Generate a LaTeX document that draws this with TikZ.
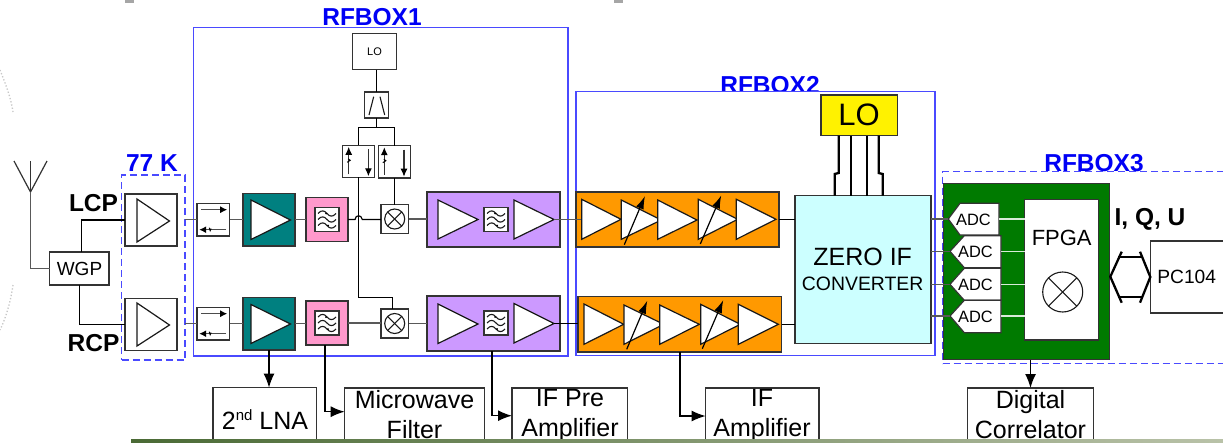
\documentclass[tikz,border=0pt]{standalone}
\usepackage{fontspec}
\setmainfont{Liberation Sans}
\usetikzlibrary{arrows.meta,calc}
\definecolor{boxblue}{HTML}{4A4AFF}
\definecolor{tealbox}{HTML}{008080}
\definecolor{pinkbox}{HTML}{FF99CC}
\definecolor{purplebox}{HTML}{CC99FF}
\definecolor{orangebox}{HTML}{FF9900}
\definecolor{cyanbox}{HTML}{CCFFFF}
\definecolor{greenbox}{HTML}{007A00}
\definecolor{edgegray}{HTML}{333333}
\definecolor{labelblue}{HTML}{0000F5}
\definecolor{stripa}{HTML}{4A6A35}
\definecolor{stripb}{HTML}{7F9470}
\definecolor{stripc}{HTML}{B9C2A8}
\tikzset{
  every node/.style={inner sep=0pt,outer sep=0pt},
  plain/.style={draw=edgegray,line width=1.2pt,fill=white},
  colored/.style={draw=edgegray,line width=1.2pt,fill=#1},
  frame/.style={draw=boxblue,line width=1.5pt,fill=white},
  dashframe/.style={draw=boxblue,line width=1.5pt,dash pattern=on 7pt off 4pt},
  wire/.style={draw=black,line width=1.2pt},
  graywire/.style={draw=black!65,line width=1.4pt},
  thickwire/.style={draw=black,line width=2.3pt},
  feedarrow/.style={draw=black,line width=1.5pt,-{Latex[length=14pt,width=11pt]}},
  whitewire/.style={draw=white!85!greenbox,line width=1.1pt},
  tripoly/.style={draw=black!90,line width=1.2pt,fill=white},
  heading/.style={font=\fontsize{24.5}{26}\selectfont\bfseries,text=labelblue},
  sidelabel/.style={font=\fontsize{24.5}{26}\selectfont\bfseries,text=black},
  caption/.style={font=\fontsize{25}{30}\selectfont,align=center,text=black},
  adctext/.style={font=\fontsize{16.4}{18}\selectfont,text=black},
  smallarrow/.style={draw=black!70,line width=1.2pt,-{Latex[length=7pt,width=7pt,color=black]}},
  vertarrow/.style={draw=black!80,line width=1.2pt,-{Latex[length=8pt,width=7pt,color=black]}},
  varline/.style={draw=black,line width=1.2pt,-{Latex[length=13pt,width=8pt]}},
  symbolline/.style={line width=1.1pt,draw=black!90},
}
% box node from pixel corners: name x1 y1 x2 y2 style
\newcommand\bx[6]{%
  \pgfmathsetmacro\bxw{#4-#2}\pgfmathsetmacro\bxh{#5-#3}%
  \pgfmathsetmacro\bxx{(#2+#4)/2}\pgfmathsetmacro\bxy{(#3+#5)/2}%
  \node[#6,minimum width=\bxw pt,minimum height=\bxh pt] (#1) at (\bxx,\bxy) {};}
\newcommand\tri[5]{\draw[tripoly] (#1,#2) -- (#3,#4) -- (#1,#5) -- cycle;}
\newcommand\hl[2]{\draw[graywire] (#1.east) -- (#1.east -| #2.west);}
\newcommand\filt[2]{%
  \begin{scope}[shift={(#1,#2)}]
    \foreach \d in {-6,0,6}{
      \draw[symbolline] (-9,\d) .. controls (-5.5,\d-4) and (-2.5,\d-3) .. (0,\d)
        .. controls (2.5,\d+3) and (5.5,\d+4) .. (9,\d);}
    \fill (-1,-6) circle (1); \fill (1,6) circle (1);
  \end{scope}}
\newcommand\isol[2]{%
  \begin{scope}[shift={(#1,#2)}]
    \draw[smallarrow] (-12,-10) -- (14,-10);
    \draw[smallarrow] (13,10) -- (-14,10);
    \draw[line width=1pt] (-4,8) -- (-3,11) -- (-2,9);
  \end{scope}}
\newcommand\coup[2]{%
  \begin{scope}[shift={(#1,#2)}]
    \draw[vertarrow] (6,29) -- (6,1.5);
    \draw[line width=1pt] (4.5,17) -- (7.5,15) -- (5.5,13.5);
    \draw[vertarrow] (25.7,4) -- (25.7,31);
  \end{scope}}
\newcommand\mixsym[3]{%
  \pgfmathsetmacro\mixd{#3*0.7071}%
  \draw[symbolline] (#1,#2) circle (#3);
  \draw[symbolline] ($(#1,#2)+(-\mixd,-\mixd)$) -- ($(#1,#2)+(\mixd,\mixd)$);
  \draw[symbolline] ($(#1,#2)+(-\mixd,\mixd)$) -- ($(#1,#2)+(\mixd,-\mixd)$);}
\begin{document}
\begin{tikzpicture}[x=1pt,y=-1pt]
\useasboundingbox (0,0) rectangle (1223,442);
\clip (0,0) rectangle (1223,442);
\fill[white] (0,0) rectangle (1223,442);
% faint background remnants
\draw[black!22,line width=1.3pt,dotted] (0,70) .. controls (6,85) and (11,98) .. (13,112);
\draw[black!22,line width=1.3pt,dotted] (13,285) .. controls (11,300) and (6,318) .. (0,330);
\fill[black!35] (125,0) rectangle (134,2.5);
\fill[black!35] (614,0) rectangle (623,2.5);
% enclosure labels (the frames cover their lower edge)
\node[heading] (rf1label) at (372,17) {RFBOX1};
\node[heading] (rf2label) at (770,85) {RFBOX2};
\node[heading] (rf3label) at (1094,163) {RFBOX3};
\node[heading] (k77label) at (152,163) {77 K};
% enclosures
\bx{rf1}{193.5}{27.5}{568}{356}{frame}
\bx{rf2}{576}{91.5}{935}{355.5}{frame}
\bx{rf3}{942.5}{171.5}{1240}{363.5}{dashframe}
\bx{k77}{121.5}{175}{185}{360}{dashframe}
% antenna
\coordinate (antfoot) at (30.5,192);
\draw[wire,black!80] (14,161) -- (antfoot) -- (47,161);
\draw[wire,black!80] (30.5,161) -- (antfoot);
% front end
\bx{wgp}{49.5}{252}{109}{285}{plain}
\node[font=\fontsize{19}{20}\selectfont] (wgptext) at (79.5,268.5) {WGP};
\draw[graywire] (antfoot) |- (wgp.west);
\bx{lcp}{125}{194}{177}{246}{plain}
\bx{rcp}{125}{298.5}{177}{350.5}{plain}
\tri{137}{199}{169.5}{221}{242}
\tri{137}{303}{169.5}{325}{346}
\draw[wire] ([xshift=2pt]wgp.north) |- (lcp.west);
\draw[wire] (wgp.south) |- (rcp.west);
\node[sidelabel] (lcptext) at (93.5,203) {LCP};
\node[sidelabel] (rcptext) at (93.5,343) {RCP};
% isolators
\bx{isoa}{197}{203.5}{229.5}{236}{plain}
\bx{isob}{197}{307.5}{229.5}{340}{plain}
\isol{213.2}{219.7}
\isol{213.2}{323.7}
\draw[graywire] (k77.east |- isoa.west) -- (isoa.west);
\draw[graywire] (k77.east |- isob.west) -- (isob.west);
% second LNA
\bx{lnaa}{243}{193.5}{295}{246}{colored=tealbox}
\bx{lnab}{243}{297.5}{295}{350}{colored=tealbox}
\tri{251}{200}{290.5}{220}{239.5}
\tri{251}{304.5}{290.5}{324}{343.5}
\hl{isoa}{lnaa}
\hl{isob}{lnab}
% microwave filter
\bx{pinka}{306}{197.5}{348}{241.5}{colored=pinkbox}
\bx{pinkb}{306}{301}{348}{345}{colored=pinkbox}
\bx{fila}{315}{207.5}{339}{231.5}{plain}
\bx{filb}{315}{311}{339}{335}{plain}
\filt{327}{219.5}
\filt{327}{323}
\hl{lnaa}{pinka}
\hl{lnab}{pinkb}
% mixers
\bx{mixa}{381}{204.5}{408.5}{233.5}{plain}
\bx{mixb}{381}{309}{408.5}{338}{plain}
\mixsym{394.7}{219}{10}
\mixsym{394.7}{323.5}{10}
\draw[wire] (pinka.east) -- (355,219.5) .. controls (355.5,214.5) and (361.5,214.5) .. (362.3,219.5) -- (mixa.west |- pinka.east);
\hl{pinkb}{mixb}
% first LO chain
\bx{lotop}{352.3}{33.3}{396.7}{69.7}{plain}
\node[font=\fontsize{11}{12}\selectfont] (lotoptext) at (374.5,51.3) {LO};
\bx{split}{364.3}{92}{388.7}{118}{plain}
\draw[symbolline] (369,115) -- (373.7,96.7);
\draw[symbolline] (384.7,115) -- (380,96.7);
\bx{coupa}{342.7}{145.3}{374.7}{177.3}{plain}
\bx{coupb}{378.3}{145.7}{410.3}{178}{plain}
\coup{342.7}{145.3}
\coup{378.3}{145.7}
\coordinate (splitnode) at (split.south |- 0,127.7);
\draw[wire] (lotop.south -| split.north) -- (split.north);
\draw[wire] (split.south) -- (splitnode);
\draw[wire] (coupa.north) |- (splitnode);
\draw[wire] (coupb.north) |- (splitnode);
\draw[wire] (coupb.south) -- (coupb.south |- mixa.north);
\coordinate (lobend) at (392.3,297.3);
\draw[wire] (coupa.south) |- (lobend) -- (lobend |- mixb.north);
% pre amplifier
\bx{prea}{427}{192}{560}{247}{colored=purplebox}
\bx{preb}{427}{296}{560}{351}{colored=purplebox}
\tri{438}{200}{478}{219.5}{239}
\tri{514}{200}{554}{219.5}{239}
\tri{438}{304}{478}{324}{343.5}
\tri{514}{303.5}{554}{323.5}{343}
\bx{pfa}{484}{207.5}{508}{231.5}{plain}
\bx{pfb}{484}{311}{508}{335}{plain}
\filt{496}{219.5}
\filt{496}{323}
\hl{mixa}{prea}
\hl{mixb}{preb}
% IF amplifier
\bx{ifa}{576}{192}{779}{247}{colored=orangebox}
\bx{ifb}{578}{296.7}{781.5}{352}{colored=orangebox}
\draw[graywire] (554,219.5) -- (581.5,219.5);
\draw[wire] (554,323.5) -- (ifb.west |- 0,323.5);
\tri{581.7}{199.3}{621}{219.3}{239.3}
\tri{621.3}{200}{661.3}{220}{239.3}
\tri{657.7}{200}{697}{220}{239.3}
\tri{698.3}{199.3}{737.7}{219.3}{239.3}
\tri{736.3}{199.3}{776}{219.3}{239.3}
\draw[varline] (624.3,244.7) -- (645,196);
\draw[varline] (700.3,244) -- (721.3,195.3);
\tri{584}{304}{623.7}{324.3}{344.3}
\tri{624}{305}{663.7}{324.3}{344.3}
\tri{659.7}{305}{699.3}{324.3}{344.3}
\tri{700.7}{304.3}{740.3}{324.3}{344.3}
\tri{738.3}{304.3}{778.3}{324.3}{344.3}
\draw[varline] (626.7,349.3) -- (647.3,300.7);
\draw[varline] (702.3,348.7) -- (723.3,300);
% converter
\bx{conv}{795}{195.7}{931}{343.7}{colored=cyanbox}
\node[font=\fontsize{25}{26}\selectfont] (zerotext) at (862.7,256.7) {ZERO IF};
\node[font=\fontsize{19.4}{20}\selectfont] (convtext) at (862.7,284) {CONVERTER};
\draw[wire] (ifa.east) -- (ifa.east -| conv.west);
\draw[wire] (ifb.east) -- (ifb.east -| conv.west);
\bx{lobig}{821}{95}{897.3}{135.7}{colored=yellow}
\node[font=\fontsize{31}{32}\selectfont] (lobigtext) at (859,114.5) {LO};
\draw[thickwire] (838.7,135.7) -- (838.7,173) -- (834.7,174) -- (834.7,195.7);
\draw[thickwire] (851,135.7) -- (851,195.7);
\draw[thickwire] (866.7,135.7) -- (866.7,195.7);
\draw[thickwire] (878.7,135.7) -- (878.7,173) -- (882.7,174) -- (882.7,195.7);
% digital board
\bx{board}{943.3}{183.3}{1109.7}{359.7}{colored=greenbox}
\bx{fpga}{1024.7}{199.3}{1098.7}{340}{plain}
\node[font=\fontsize{22}{24}\selectfont] (fpgatext) at (1061.7,238.3) {FPGA};
\mixsym{1062.7}{292}{20}
\foreach \nm/\xa/\xb/\xc/\ya/\yt/\yb in {a/948.3/960/999/203.3/219/235,b/950/964.3/1001/235.7/251.3/267.7,c/950/964.3/1001/268.3/284.3/300.3,d/950/964.3/1001/300.3/316/332.7}{
  \draw[plain] (\xa,\yt) coordinate (adctip\nm) -- (\xb,\ya) -- (\xc,\ya) -- (\xc,\yb) -- (\xb,\yb) -- cycle;
  \coordinate (adcout\nm) at (\xc,\yt);
  \draw[whitewire] (adcout\nm) -- (adcout\nm -| fpga.west);
  \draw[graywire] (adctip\nm -| conv.east) -- (adctip\nm);
}
\node[adctext] (adctexta) at (973.5,219.5) {ADC};
\node[adctext] (adctextb) at (975.5,251.5) {ADC};
\node[adctext] (adctextc) at (975.5,284.5) {ADC};
\node[adctext] (adctextd) at (975.5,316.5) {ADC};
\node[sidelabel] (iqu) at (1150,219) {I, Q, U};
% PC104 link
\bx{pc}{1150.3}{241}{1240}{313}{plain}
\node[font=\fontsize{19.2}{20}\selectfont] (pctext) at (1186.7,276.7) {PC104};
\coordinate (linkleft) at (1110.3,276.7);
\draw[thickwire] (1121.7,251.7) -- (linkleft) -- (1121.7,302.7);
\draw[thickwire] (1140,251.7) -- (pc.west) -- (1140,302.7);
\draw[thickwire] (1118.3,256.7) -- (1143.3,256.7);
\draw[thickwire] (1118.3,296.7) -- (1143.3,296.7);
% caption boxes
\bx{lnabox}{213}{387.7}{316.7}{450}{plain}
\bx{mwbox}{344.7}{388}{484.3}{450}{plain}
\bx{prebox}{512}{388}{627.7}{450}{plain}
\bx{ampbox}{705.7}{388}{819}{450}{plain}
\bx{corbox}{967.3}{388}{1093.3}{450}{plain}
\node[caption] (lnatext) at (265,420) {2\raisebox{9pt}{\fontsize{15}{15}\selectfont nd} LNA};
\node[caption] (mwtext) at (414.5,415) {Microwave\\Filter};
\node[caption] (pretext) at (570,415) {IF Pre\\Amplifier};
\node[caption] (amptext) at (762,415) {IF\\Amplifier};
\node[caption] (cortext) at (1030.5,415) {Digital\\Correlator};
\draw[feedarrow] (lnab.south) -- (lnab.south |- lnabox.north);
\draw[feedarrow] ([xshift=-2pt]pinkb.south) |- ([yshift=7.3pt]mwbox.west);
\draw[feedarrow] ([xshift=-1.5pt]preb.south) |- ([yshift=3.3pt]prebox.west);
\draw[feedarrow] (ifb.south) |- ([yshift=3pt]ampbox.west);
\draw[feedarrow] ([xshift=4pt]board.south) -- ([xshift=4pt]board.south |- corbox.north);
% strip along the lower edge
\shade[left color=stripa,middle color=stripb,right color=stripc] (131,439.7) rectangle (1223,442);
\end{tikzpicture}
\end{document}
